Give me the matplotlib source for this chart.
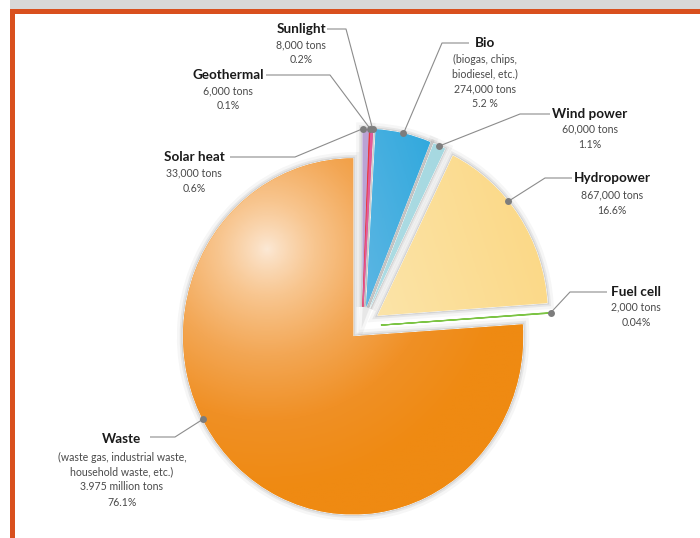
import numpy as np
import matplotlib
matplotlib.use("Agg")
import matplotlib.pyplot as plt
import matplotlib.patheffects as pe
from matplotlib.patches import Wedge, Rectangle
from matplotlib.colors import LinearSegmentedColormap

plt.rcParams['font.family'] = ['Lato', 'DejaVu Sans']

W, H = 700, 538
K = 170 / 178   # the printed pie is a little taller than wide

# data
sources = ["Solar heat", "Geothermal", "Sunlight", "Bio", "Wind power",
           "Hydropower", "Fuel cell", "Waste"]
tons = [33000, 6000, 8000, 274000, 60000, 867000, 2000, 3975000]
amounts = ["33,000 tons", "6,000 tons", "8,000 tons", "274,000 tons",
           "60,000 tons", "867,000 tons", "2,000 tons", "3.975 million tons"]
shares = ["0.6%", "0.1%", "0.2%", "5.2 %", "1.1%", "16.6%", "0.04%", "76.1%"]
notes = ["", "", "", "(biogas, chips,\nbiodiesel, etc.)", "", "", "",
         "(waste gas, industrial waste,\nhousehold waste, etc.)"]

# style
colors = ["#baa3d4", "#e8383d", "#e45a9a", "#3aaee0", "#a7d9e1",
          "#fbdf95", "#7cc444", "#f08a12"]
gradients = {
    3: ["#9ccdec", "#5cb6e3", "#0c9dd8"],
    4: ["#bde4ea", "#9fd5de"],
    5: ["#fdf1d4", "#fce4a8", "#fbd680"],
    7: ["#fce9d6", "#f8c690", "#f3a755", "#f09025", "#ef8a12"],
}
thin = [1, 2, 6]
explode = [19, 19, 19, 19, 19, 19, 19, 13]

# label layout, in pixels of the 700x538 picture
label_xy = [(194, 157), (228, 75), (301, 29), (485, 43), (590, 114),
            (612, 178), (636, 292), (122, 439)]
elbows = [(295, 157), (330, 75), (346, 29), (442, 43), (520, 114),
          (545, 178), (570, 292), (175, 437)]
line_ends = [(230, 157), (266, 75), (327, 29), (469, 43), (550, 114),
             (572, 178), (607, 292), (150, 437)]
anchor_frac = [0.9, 0.5, 0.0, 0.5, 0.5, 0.6, 0.5, 0.43]
first_gap = [16, 16, 16, 16, 15, 17, 15, 18]


def px(x, y):
    return x, (H - y) * K


fig = plt.figure(figsize=(7, 5.38), dpi=100)
ax = fig.add_axes([0, 0, 1, 1])

center = px(362, 326.5)
wedges, _ = ax.pie(tons, colors=colors, explode=explode, startangle=90,
                   counterclock=False, radius=170, center=center, frame=True,
                   wedgeprops=dict(edgecolor="white", linewidth=0.6))

for i, w in enumerate(wedges):
    w.set_zorder(1)
    if i not in thin:
        w.set_path_effects([
            pe.withStroke(linewidth=9, foreground="#000000", alpha=0.035),
            pe.withStroke(linewidth=5, foreground="#000000", alpha=0.06),
            pe.withStroke(linewidth=2.5, foreground="#000000", alpha=0.08),
        ])
    else:
        w.set_edgecolor(colors[i])
        w.set_linewidth(0.8)

    cx, cy = w.center
    r = w.r
    top = Wedge((cx, cy), r, w.theta1, w.theta2, facecolor=colors[i],
                edgecolor=colors[i] if i in thin else "none",
                linewidth=0.8 if i in thin else 0, zorder=3)
    ax.add_patch(top)

    if i in gradients:
        xs = np.linspace(cx - r, cx + r, 300)
        ys = np.linspace(cy - r, cy + r, 300)
        X, Y = np.meshgrid(xs, ys)
        if i == 7:
            hx, hy = px(267, 250)
            d = np.hypot(X - hx, (Y - hy) / K)
            t = np.clip(d / 240, 0, 1) ** 0.85
        else:
            xn = (X - xs[0]) / (xs[-1] - xs[0])
            yn = (Y - ys[0]) / (ys[-1] - ys[0])
            t = np.clip(0.75 * xn + 0.25 * yn, 0, 1)
        cmap = LinearSegmentedColormap.from_list("g%d" % i, gradients[i])
        im = ax.imshow(t, cmap=cmap, vmin=0, vmax=1, origin="lower",
                       extent=(xs[0], xs[-1], ys[0], ys[-1]),
                       aspect="auto", zorder=3.5, interpolation="bilinear")
        im.set_clip_path(top)

# leader lines and labels
for i, w in enumerate(wedges):
    cx, cy = w.center
    a = np.deg2rad(w.theta1 + anchor_frac[i] * (w.theta2 - w.theta1))
    dot = (cx + w.r * np.cos(a), cy + w.r * np.sin(a))
    ex, ey = px(*elbows[i])
    lx, ly = px(*line_ends[i])
    ax.plot([dot[0], ex, lx], [dot[1], ey, ly], color="#8c8c8c", lw=0.8,
            zorder=5, solid_capstyle="butt")
    ax.plot(dot[0], dot[1], "o", ms=5, color="#7d7d7d", zorder=6,
            markeredgewidth=0)

    tx, ty = label_xy[i]
    ax.text(*px(tx, ty), sources[i], ha="center", va="center",
            fontsize=9.7, fontweight="bold", color="#1a1a1a", zorder=7)
    lines = [s for s in notes[i].split("\n") if s] + [amounts[i], shares[i]]
    y = ty + first_gap[i]
    for s in lines:
        ax.text(*px(tx, y), s, ha="center", va="center", fontsize=7.6,
                color="#4a4a4a", zorder=7)
        y += 15

# page frame
ax.add_patch(Rectangle(px(10, 9), W - 10, 9 * K, facecolor="#d8d8d8",
                       edgecolor="none", zorder=8))
ax.add_patch(Rectangle(px(10, 13.5), W - 10, 4.5 * K, facecolor="#d9501e",
                       edgecolor="none", zorder=8))
ax.add_patch(Rectangle(px(10, H), 4.5, (H - 9) * K, facecolor="#d9501e",
                       edgecolor="none", zorder=8))

ax.set_aspect("auto")
ax.set_xlim(0, W)
ax.set_ylim(0, H * K)
ax.axis("off")

fig.savefig("out.png", dpi=100)
